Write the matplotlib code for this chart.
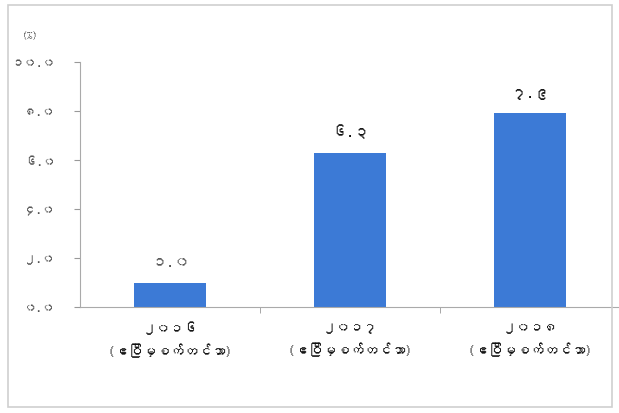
import matplotlib
matplotlib.use("Agg")
import matplotlib.pyplot as plt
from matplotlib import font_manager
from matplotlib.ft2font import FT2Font
from matplotlib.patches import Rectangle

categories = ["၂၀၁၆\n(ဧပြီမှစက်တင်ဘာ)", "၂၀၁၇\n(ဧပြီမှစက်တင်ဘာ)", "၂၀၁၈\n(ဧပြီမှစက်တင်ဘာ)"]
values = [1.0, 6.3, 7.9]
value_labels = ["၁.၀", "၆.၃", "၇.၉"]
yticks = [0, 2, 4, 6, 8, 10]
ytick_labels = ["၀.၀", "၂.၀", "၄.၀", "၆.၀", "၈.၀", "၁၀.၀"]
unit_label = "(%)"

# find a font with Myanmar glyphs if any
fams = []
for f in font_manager.fontManager.ttflist:
    try:
        cm = FT2Font(f.fname).get_charmap()
        if 0x1000 in cm and 0x1014 in cm:
            if f.name not in fams:
                fams.append(f.name)
    except Exception:
        pass
plt.rcParams['font.family'] = fams + ['DejaVu Sans']

W, H = 619, 414
fig = plt.figure(figsize=(W/100, H/100), dpi=100)
fig.patch.set_facecolor("white")
fig.add_artist(Rectangle((8/W, 6/H), 604/W, 402/H, transform=fig.transFigure,
                         fill=False, edgecolor="#cfcfcf", linewidth=1.2))

ax = fig.add_axes([80/W, 1 - 308/H, 540/W, (308-63)/H])
bar_color = "#3c7ad6"
x = list(range(len(categories)))
ax.bar(x, values, width=0.4, color=bar_color)
ax.set_xlim(-0.5, 2.5)
ax.set_ylim(0, 10)
ax.set_yticks(yticks)
ax.set_yticklabels(ytick_labels, color="#555555", fontsize=9)
ax.set_xticks(x)
ax.set_xticklabels(categories, fontsize=10, color="#111111", fontweight="bold",
                   linespacing=1.7)
ax.tick_params(axis="x", length=0, pad=10)
ax.tick_params(axis="y", length=4, color="#999999", pad=14)
ax.set_xticks([0.5, 1.5], minor=True)
ax.tick_params(axis="x", which="minor", length=4, color="#999999")
for s in ["top", "right"]:
    ax.spines[s].set_visible(False)
ax.spines["left"].set_color("#aaaaaa")
ax.spines["bottom"].set_color("#aaaaaa")
ax.spines["left"].set_bounds(0, 10)

colors = ["#555555", "#111111", "#111111"]
weights = ["normal", "bold", "bold"]
for xi, v, lab, c, w in zip(x, values, value_labels, colors, weights):
    ax.text(xi, v + 0.6, lab, ha="center", va="bottom", fontsize=11, color=c,
            fontweight=w)

fig.text(22/W, 1 - 35/H, unit_label, fontsize=8, color="#555555", va="center")

fig.savefig("out.png", dpi=100)
